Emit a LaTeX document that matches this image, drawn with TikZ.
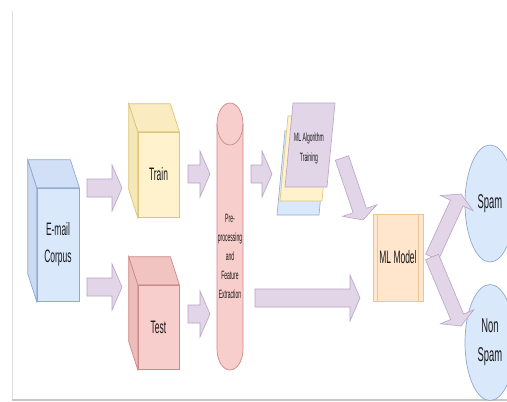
\documentclass[tikz,border=0pt]{standalone}
\usepackage{fontspec}
\setmainfont{Liberation Sans}
\newfontfamily\lblfont[FakeStretch=0.47]{Liberation Sans}
\newfontfamily\smlfont[FakeStretch=0.42]{Liberation Sans}
\usetikzlibrary{calc,shapes.geometric}
\definecolor{bluef}{HTML}{DAE8FC}\definecolor{blued}{HTML}{8FA9D0}
\definecolor{yelf}{HTML}{FFF2CC}\definecolor{yeld}{HTML}{DCC57A}
\definecolor{redf}{HTML}{F8CECC}\definecolor{redd}{HTML}{CC8A88}
\definecolor{purf}{HTML}{E1D5E7}\definecolor{purd}{HTML}{B9A2C6}
\definecolor{oraf}{HTML}{FFE6CC}\definecolor{orad}{HTML}{EDC592}
\definecolor{framec}{HTML}{DDDDDD}
\tikzset{
  lbl/.style={font=\lblfont\fontsize{18}{29}\selectfont, text=black!90, align=center},
  sml/.style={font=\smlfont\fontsize{12}{19}\selectfont, text=black!90, align=center, inner sep=0},
  cubefront/.style={lbl, line width=0.7pt, inner sep=0, minimum width=#1},
  face/.style={line width=0.7pt},
  fatarrow/.style={fill=purf, draw=purd, line width=0.6pt, line join=miter},
}
\newcommand\fatarrow[4]{% start, end, shaft half width, head half width
  \coordinate (fah) at ($(#2)!10pt!(#1)$);
  \draw[fatarrow] ($(#1)!#3!90:(#2)$) -- ($(fah)!#3!90:(#2)$) -- ($(fah)!#4!90:(#2)$)
    -- (#2) -- ($(fah)!#4!-90:(#2)$) -- ($(fah)!#3!-90:(#2)$) -- ($(#1)!#3!-90:(#2)$) -- cycle;}
\newcommand\cubefaces[4]{% node, fill top, fill side, stroke
  \draw[face, fill=#2, draw=#4] (#1.north west) -- ++(-9,-28) -- ($(#1.north east)+(-9,-28)$) -- (#1.north east) -- cycle;
  \draw[face, fill=#3, draw=#4] (#1.north west) -- ++(-9,-28) -- ($(#1.south west)+(-9,-28)$) -- (#1.south west) -- cycle;}
\begin{document}
\begin{tikzpicture}[x=1pt, y=-1pt]
\useasboundingbox (0,0) rectangle (507,402);
\clip (0,0) rectangle (507,402);
\fill[white] (0,0) rectangle (507,402);
% frame
\draw[framec, line width=0.8pt] (12,11) -- (12,400);
\draw[framec!90!black, line width=1.4pt] (12,400) -- (507,400);

% cubes
\node[cubefront=42pt, minimum height=113pt, fill=bluef, draw=blued] (corpus) at (58,244.5) {E-mail\\[-2pt]Corpus};
\cubefaces{corpus}{bluef!88!blued}{bluef!78!blued}{blued}
\node[cubefront=41pt, minimum height=85pt, fill=yelf, draw=yeld] (train) at (158.5,174.5) {Train};
\cubefaces{train}{yelf!85!yeld}{yelf!75!yeld}{yeld}
\node[cubefront=41pt, minimum height=84pt, fill=redf, draw=redd] (test) at (158.5,327) {Test};
\cubefaces{test}{redf!85!redd}{redf!75!redd}{redd}

% cylinder
\node[inner sep=0, minimum width=26pt, minimum height=267pt] (prep) at (230,236.5) {};
\draw[fill=redf, draw=redd, line width=0.7pt] (217,124) -- (217,349)
  arc[start angle=180, end angle=360, x radius=13pt, y radius=21pt] -- (243,124)
  arc[start angle=0, end angle=180, x radius=13pt, y radius=21pt] -- cycle;
\draw[draw=redd, line width=0.7pt] (217,124) arc[start angle=180, end angle=360, x radius=13pt, y radius=21pt];
\node[sml] (preptext) at (230,256) {Pre-\\processing\\and\\Feature\\Extraction};

% ML algorithm training stack
\draw[fill=bluef, draw=blued, line width=0.6pt] (277,215) -- (319,215) -- (327,131) -- (285,131) -- cycle;
\draw[fill=yelf, draw=yeld, line width=0.6pt] (280,201) -- (322,201) -- (330,116) -- (288,116) -- cycle;
\draw[fill=purf, draw=purd, line width=0.6pt] (285,187) -- (327,187) -- (335,103) -- (293,103) -- cycle;
\node[sml, font=\smlfont\fontsize{12}{20}\selectfont] (mlalgo) at (309,148) {ML Algorithm\\Training};

% ML model
\node[lbl, inner sep=0, fill=oraf, draw=orad, line width=0.7pt, minimum width=50pt, minimum height=87pt] (model) at (398,257.5) {ML Model};
\draw[orad, line width=0.7pt] ($(model.north west)+(5,0)$) -- ($(model.south west)+(5,0)$);
\draw[orad, line width=0.7pt] ($(model.north east)+(-5,0)$) -- ($(model.south east)+(-5,0)$);

% outputs
\node[ellipse, lbl, font=\lblfont\fontsize{20}{29}\selectfont, inner sep=0, fill=bluef, draw=blued, line width=0.7pt, minimum width=50pt, minimum height=117pt] (spam) at (490,203.5) {Spam};
\node[ellipse, lbl, font=\lblfont\fontsize{20}{29}\selectfont, inner sep=0, fill=bluef, draw=blued, line width=0.7pt, minimum width=50pt, minimum height=116pt] (nonspam) at (490,342.5) {Non\\Spam};

% arrow end points
\coordinate (a1s) at (87,188);  \coordinate (a1e) at (122,188);
\coordinate (a2s) at (87,287);  \coordinate (a2e) at (122,287);
\coordinate (a3s) at (188,174); \coordinate (a3e) at (210,174);
\coordinate (a4s) at (188,314); \coordinate (a4e) at (210,314);
\coordinate (a5s) at (251,174); \coordinate (a5e) at (272,174);
\coordinate (a6s) at (255,298); \coordinate (a6e) at (360,298);
\coordinate (a7s) at (342,158); \coordinate (a7e) at (363,220);
\coordinate (a8s) at (432,257); \coordinate (a8e) at (461,194);
\coordinate (a9e) at (461,326);

\fatarrow{a1s}{a1e}{9pt}{23pt}
\fatarrow{a2s}{a2e}{9pt}{23pt}
\fatarrow{a3s}{a3e}{9pt}{23pt}
\fatarrow{a4s}{a4e}{9pt}{23pt}
\fatarrow{a5s}{a5e}{9pt}{23pt}
\fatarrow{a6s}{a6e}{9pt}{23pt}
\fatarrow{a7s}{a7e}{7pt}{18pt}
\fatarrow{a8s}{a8e}{7pt}{18pt}
\fatarrow{a8s}{a9e}{7pt}{18pt}
\end{tikzpicture}
\end{document}
